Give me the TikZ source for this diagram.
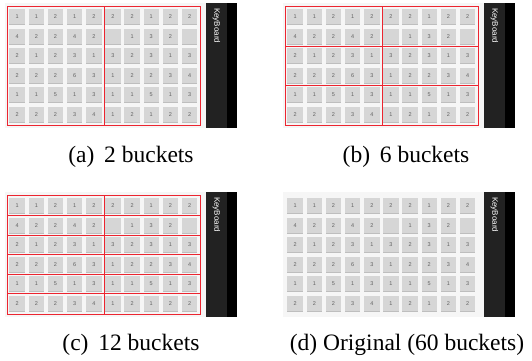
\documentclass[tikz,border=0pt]{standalone}
\usepackage{fontspec}
\setmainfont{Liberation Serif}
\setsansfont{Liberation Sans}
\usepackage{tikz}

\definecolor{bucketred}{HTML}{EC2530}
\definecolor{keybg}{HTML}{F6F6F6}
\definecolor{keycell}{HTML}{D6D6D6}
\definecolor{keyshade}{HTML}{BEBEBE}
\definecolor{keydark}{HTML}{222222}

\tikzset{
  key/.style={fill=keycell, minimum width=15.5pt, minimum height=15pt, inner sep=0pt,
    font=\fontsize{5.5}{5.5}\selectfont\sffamily, text=black!62},
  bucket/.style={draw=bucketred, line width=1.2pt},
  subcap/.style={font=\fontsize{23.5}{26}\selectfont, anchor=base}
}

% the keyboard layout, row by row
\newcommand{\keyrows}{1/{1,1,2,1,2,2,2,1,2,2},2/{4,2,2,4,2,{},1,3,2,{}},3/{2,1,2,3,1,3,2,3,1,3},4/{2,2,2,6,3,1,2,2,3,4},5/{1,1,5,1,3,1,1,5,1,3},6/{2,2,2,3,4,1,2,1,2,2}}

\newcommand{\keypanel}[1]{%
  \fill[keybg] (0,0) rectangle (201,125);
  \fill[keydark] (201,0) rectangle (222,125);
  \fill[black] (222,0) rectangle (232,125);
  \node[rotate=-90, anchor=west, inner sep=0pt, text=white,
    font=\fontsize{8}{8}\selectfont\sffamily] (#1kb) at (211.5,5) {KeyBoard};
  \foreach \r/\row in \keyrows {
    \foreach \v [count=\c] in \row {
      \pgfmathsetmacro\kx{12.2+(\c-1)*19.15}
      \pgfmathsetmacro\ky{13.9+(\r-1)*19.5}
      \fill[keyshade] (\kx-7.75,\ky-6.6) rectangle (\kx+7.75,\ky+8.4);
      \node[key] (#1-\r-\c) at (\kx,\ky) {\v};
    }
  }
}

\begin{document}
\begin{tikzpicture}[x=1pt,y=-1pt]
  \useasboundingbox (0,0) rectangle (532,360);

  % (a) two buckets
  \begin{scope}[shift={(5,3)}]
    \keypanel{a}
    \draw[bucket] (2.5,3.5) rectangle (195.5,122.5);
    \draw[bucket] (99.5,3.5) -- (99.5,122.5);
  \end{scope}
  \node[subcap] (capa) at (131,162) {(a)\, 2 buckets};

  % (b) six buckets
  \begin{scope}[shift={(283,3)}]
    \keypanel{b}
    \draw[bucket] (2.5,3.5) rectangle (195.5,122.5);
    \draw[bucket] (99.5,3.5) -- (99.5,122.5);
    \draw[bucket] (2.5,43.5) -- (195.5,43.5);
    \draw[bucket] (2.5,82.5) -- (195.5,82.5);
  \end{scope}
  \node[subcap] (capb) at (406,162) {(b)\, 6 buckets};

  % (c) twelve buckets
  \begin{scope}[shift={(5,192)}]
    \keypanel{c}
    \draw[bucket] (2.5,3.5) rectangle (195.5,122.5);
    \draw[bucket] (99.5,3.5) -- (99.5,122.5);
    \foreach \yy in {23.5,43.5,62.5,82.5,101.5}
      \draw[bucket] (2.5,\yy) -- (195.5,\yy);
  \end{scope}
  \node[subcap] (capc) at (131,350) {(c)\, 12 buckets};

  % (d) original, one bucket per key
  \begin{scope}[shift={(283,192)}]
    \keypanel{d}
  \end{scope}
  \node[subcap] (capd) at (407,350) {(d) Original (60 buckets)};
\end{tikzpicture}
\end{document}
